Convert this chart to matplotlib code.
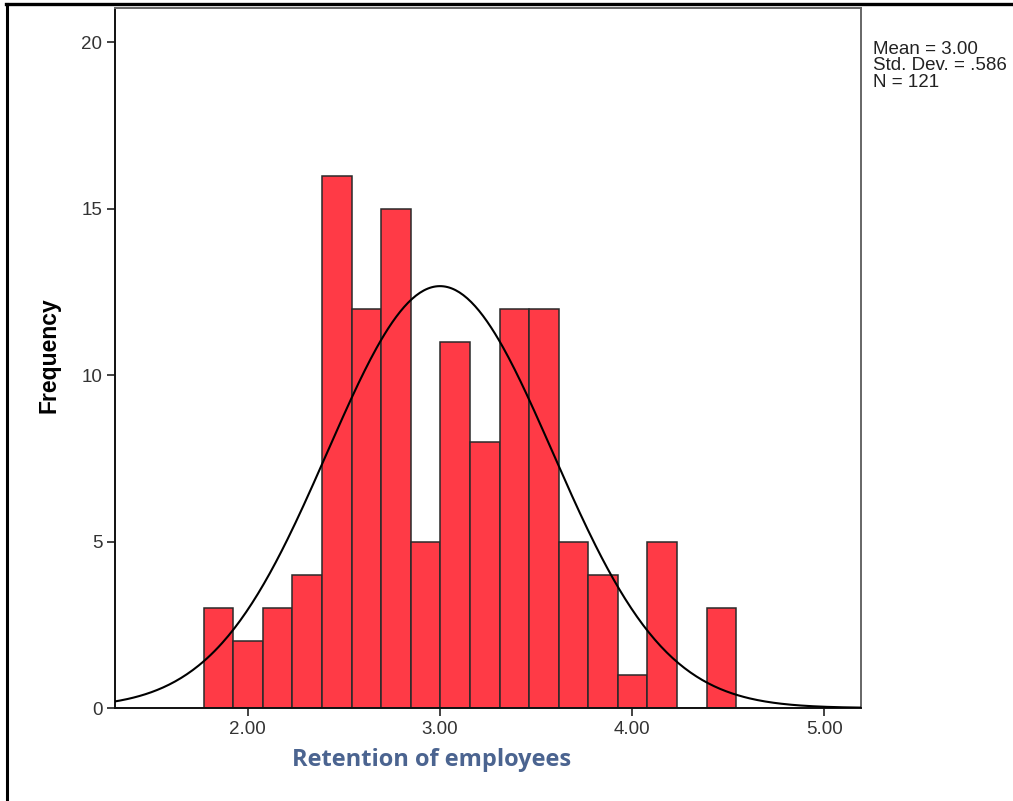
import numpy as np
import matplotlib.pyplot as plt
from matplotlib.lines import Line2D

# histogram of retention scores (SPSS style output)
bin_start = 1.771
bin_width = 0.1539
counts = [3, 2, 3, 4, 16, 12, 15, 5, 11, 8, 12, 12, 5, 4, 1, 5, 0, 3]
mean = 3.00
std_dev = 0.586
n_total = 121
x_ticks = [2.0, 3.0, 4.0, 5.0]
x_tick_labels = ['2.00', '3.00', '4.00', '5.00']
y_ticks = [0, 5, 10, 15, 20]

fig = plt.figure(figsize=(10.13, 8.01), dpi=100)
ax = fig.add_axes([0.1135, 0.1161, 0.7365, 0.8745])

lefts = bin_start + bin_width * np.arange(len(counts))
ax.bar(lefts, counts, width=bin_width, align='edge', color='#FF3A46',
       edgecolor='#2a2a2a', linewidth=1.1, zorder=2)

# normal curve scaled to counts
xs = np.linspace(1.2, 5.3, 400)
pdf = np.exp(-0.5 * ((xs - mean) / std_dev) ** 2) / (std_dev * np.sqrt(2 * np.pi))
ax.plot(xs, n_total * bin_width * pdf, color='black', linewidth=1.5, zorder=3)

ax.set_xlim(1.309, 5.191)
ax.set_ylim(0, 21.05)
ax.set_xticks(x_ticks)
ax.set_xticklabels(x_tick_labels)
ax.set_yticks(y_ticks)

ax.tick_params(direction='out', length=6, width=1.2, color='#222222',
               labelsize=13.5, labelcolor='#333333', pad=3)
for lbl in ax.get_xticklabels() + ax.get_yticklabels():
    lbl.set_family('Liberation Sans')

for side in ['left', 'bottom']:
    ax.spines[side].set_color('#111111')
    ax.spines[side].set_linewidth(1.4)
for side in ['top', 'right']:
    ax.spines[side].set_color('#666666')
    ax.spines[side].set_linewidth(1.4)

fig.text(0.048, 0.557, 'Frequency', rotation=90, ha='center', va='center',
         fontsize=16.5, fontweight='bold', family='Liberation Sans', color='black')
fig.text(0.426, 0.051, 'Retention of employees', ha='center', va='center',
         fontsize=17, fontweight='bold', family='Open Sans', color='#4B6490')

fig.text(0.862, 0.949, f'Mean = {mean:.2f}\nStd. Dev. = .{int(round(std_dev * 1000))}\nN = {n_total}',
         ha='left', va='top', fontsize=13.5, family='Liberation Sans',
         color='#222222', linespacing=0.95)

# outer frame (left and top edges)
fig.add_artist(Line2D([0.0068, 0.0068], [0, 0.9945], transform=fig.transFigure,
                      color='black', linewidth=2.2))
fig.add_artist(Line2D([0.0058, 1.0], [0.9945, 0.9945], transform=fig.transFigure,
                      color='black', linewidth=2.4))

fig.savefig('out.png', dpi=100)
